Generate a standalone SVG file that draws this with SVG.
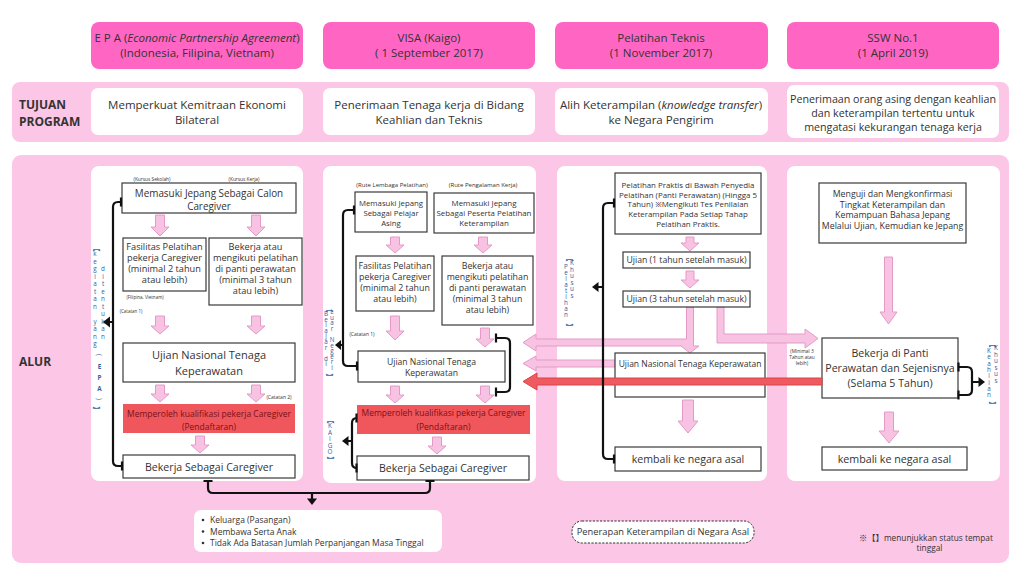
<svg xmlns="http://www.w3.org/2000/svg" width="1024" height="577" viewBox="0 0 1024 577">
<style>
.t{font-family:'Open Sans','Noto Sans','Noto Sans CJK JP',sans-serif;fill:#333;text-anchor:middle}
.cjk{font-family:'Noto Sans CJK JP',sans-serif}
.hdr{fill:#ff66c4}
.bgp{fill:#fcc6e6}
.wb{fill:#fff}
.box{fill:#fff;stroke:#3a3a3a;stroke-width:1.2}
.red{fill:#f0575c}
.rt{fill:#7d1015}
.pa{fill:#f8c3e2;stroke:#e49ac7;stroke-width:1}
.ra{fill:#ee5a5f;stroke:#d9454b;stroke-width:1}
.br{fill:none;stroke:#111;stroke-width:2.2}
.ah{fill:#111}
.vt{font-family:'Open Sans','Noto Sans',sans-serif;font-size:6.3px;fill:#3262a0;text-anchor:middle}
.vb{font-family:'Noto Sans CJK JP','Open Sans',sans-serif;font-size:7.5px;fill:#3262a0;text-anchor:middle;dominant-baseline:central}
.lab{font-family:'Open Sans','Noto Sans',sans-serif;font-weight:bold;font-size:12px;fill:#333}
</style>

<rect width="1024" height="577" fill="#fff"/>

<g id="headers">
<rect class="hdr" x="91" y="22" width="212" height="47" rx="8"/>
<text class="t" x="197" y="42" font-size="11.5">E P A (<tspan font-style="italic">Economic Partnership Agreement</tspan>)</text>
<text class="t" x="197" y="57" font-size="11.5">(Indonesia, Filipina, Vietnam)</text>
<rect class="hdr" x="323" y="22" width="212" height="47" rx="8"/>
<text class="t" x="429" y="42" font-size="11.5">VISA (Kaigo)</text>
<text class="t" x="429" y="57" font-size="11.5">( 1 September 2017)</text>
<rect class="hdr" x="555" y="22" width="213" height="47" rx="8"/>
<text class="t" x="661" y="42" font-size="11.5">Pelatihan Teknis</text>
<text class="t" x="661" y="57" font-size="11.5">(1 November  2017)</text>
<rect class="hdr" x="787" y="22" width="212" height="47" rx="8"/>
<text class="t" x="893" y="42" font-size="11.5">SSW No.1</text>
<text class="t" x="893" y="57" font-size="11.5">(1 April 2019)</text>
</g>

<g id="tujuan">
<rect class="bgp" x="12" y="82" width="997" height="60" rx="8"/>
<text class="lab" x="19" y="108.5">TUJUAN</text>
<text class="lab" x="19" y="125.5">PROGRAM</text>
<rect class="wb" x="91" y="88" width="212" height="47" rx="7"/>
<text class="t" x="197" y="109" font-size="11.5">Memperkuat Kemitraan Ekonomi</text>
<text class="t" x="197" y="124" font-size="11.5">Bilateral</text>
<rect class="wb" x="323" y="88" width="212" height="47" rx="7"/>
<text class="t" x="429" y="109" font-size="11.5">Penerimaan Tenaga kerja di Bidang</text>
<text class="t" x="429" y="124" font-size="11.5">Keahlian dan Teknis</text>
<rect class="wb" x="555" y="88" width="213" height="47" rx="7"/>
<text class="t" x="661" y="109" font-size="11.5">Alih Keterampilan (<tspan font-style="italic">knowledge transfer</tspan>)</text>
<text class="t" x="661" y="124" font-size="11.5">ke Negara Pengirim</text>
<rect class="wb" x="787" y="85" width="212" height="53" rx="7"/>
<text class="t" x="893" y="103" font-size="10.7">Penerimaan orang asing dengan keahlian</text>
<text class="t" x="893" y="117" font-size="10.7">dan keterampilan tertentu untuk</text>
<text class="t" x="893" y="131" font-size="10.7">mengatasi kekurangan tenaga kerja</text>
</g>

<g id="alur-bg">
<rect class="bgp" x="12" y="155" width="997" height="408" rx="9"/>
<text class="lab" x="19" y="366">ALUR</text>
<rect class="wb" x="91" y="166" width="212" height="315" rx="8"/>
<rect class="wb" x="323" y="166" width="213" height="317" rx="8"/>
<rect class="wb" x="557" y="166" width="210" height="315" rx="8"/>
<rect class="wb" x="787" y="166" width="213" height="315" rx="8"/>
</g>

<g id="pink-arrows">
<path class="pa" d="M155.5 215H164.5V227H169L160 236L151 227H155.5Z"/>
<path class="pa" d="M251.5 215H260.5V227H265L256 236L247 227H251.5Z"/>
<path class="pa" d="M155.5 316H164.5V326H169L160 334L151 326H155.5Z"/>
<path class="pa" d="M251.5 316H260.5V326H265L256 334L247 326H251.5Z"/>
<path class="pa" d="M155.5 385H164.5V394H169L160 402L151 394H155.5Z"/>
<path class="pa" d="M251.5 385H260.5V394H265L256 402L247 394H251.5Z"/>
<path class="pa" d="M195.5 436H204.5V445H209L200 453L191 445H195.5Z"/>
<path class="pa" d="M390.5 237H399.5V245H404L395 253L386 245H390.5Z"/>
<path class="pa" d="M478.5 237H487.5V245H492L483 253L474 245H478.5Z"/>
<path class="pa" d="M390.5 316H399.5V331H404L395 340L386 331H390.5Z"/>
<path class="pa" d="M480.5 328H489.5V339H494L485 347L476 339H480.5Z"/>
<path class="pa" d="M390.5 386H399.5V395H404L395 403L386 395H390.5Z"/>
<path class="pa" d="M480.5 386H489.5V395H494L485 403L476 395H480.5Z"/>
<path class="pa" d="M432.5 437H441.5V446H446L437 454L428 446H432.5Z"/>
<path class="pa" d="M686 237H694V243H699L690 251L681 243H686Z"/>
<path class="pa" d="M686 271H694V280H699L690 288L681 280H686Z"/>
<path class="pa" d="M682.5 400H693.5V421H698L688 433L678 421H682.5Z"/>
<path class="pa" d="M884.5 257H892.5V312H897L888.5 324L880 312H884.5Z"/>
<path class="pa" d="M884.5 412H893.5V431H899L889 443L879 431H884.5Z"/>
<path class="pa" d="M686.5 307H693.5V346H699L690 353L681 346H536V351L523 342.5L536 334V339H686.5Z"/>
<path class="pa" d="M615 360H536V356L523 363.5L536 371V367H615Z"/>
<path class="pa" d="M717 307H724V334H805V329L818 338.5L805 348V343H717Z"/>
</g>

<g id="epa">
<text class="t" x="152" y="180.5" font-size="4.8">(Kursus Sekolah)</text>
<text class="t" x="244" y="180.5" font-size="4.8">(Kursus Kerja)</text>
<g id="epa-masuk"><rect class="box" x="122" y="183" width="174" height="30"/>
<text class="t" x="209" y="196.5" font-size="9.9">Memasuki Jepang Sebagai Calon</text>
<text class="t" x="209" y="210" font-size="9.9">Caregiver</text></g>
<g id="epa-fasilitas"><rect class="box" x="123" y="238" width="83" height="53"/>
<text class="t" x="164.5" font-size="9.2"><tspan x="164.5" y="249.5">Fasilitas Pelatihan</tspan><tspan x="164.5" y="260.5">pekerja Caregiver</tspan><tspan x="164.5" y="271.5">(minimal 2 tahun</tspan><tspan x="164.5" y="282.5">atau lebih)</tspan></text></g>
<g id="epa-bekerja1"><rect class="box" x="209" y="238" width="93" height="67"/>
<text class="t" x="255.5" font-size="9.2"><tspan x="255.5" y="249.5">Bekerja atau</tspan><tspan x="255.5" y="260.5">mengikuti pelatihan</tspan><tspan x="255.5" y="271.5">di panti perawatan</tspan><tspan x="255.5" y="282.5">(minimal 3 tahun</tspan><tspan x="255.5" y="293.5">atau lebih)</tspan></text></g>
<text class="t" x="145" y="298.5" font-size="4.5">(Filipina, Vietnam)</text>
<text class="t" x="131" y="313" font-size="4.5">(Catatan 1)</text>
<g id="epa-ujian"><rect class="box" x="123" y="343" width="172" height="39"/>
<text class="t" x="209" y="359" font-size="11">Ujian Nasional Tenaga</text>
<text class="t" x="209" y="375" font-size="11">Keperawatan</text></g>
<text class="t" x="279" y="398.5" font-size="5">(Catatan 2)</text>
<g id="epa-kualifikasi"><rect class="red" x="123" y="404" width="172" height="29"/>
<text class="t rt" x="209" y="417" font-size="8.5">Memperoleh kualifikasi pekerja Caregiver</text>
<text class="t rt" x="209" y="430" font-size="8.5">(Pendaftaran)</text></g>
<g id="epa-caregiver"><rect class="box" x="123" y="455" width="172" height="23"/>
<text class="t" x="209" y="470.5" font-size="10.6">Bekerja Sebagai Caregiver</text></g>
<g id="epa-status">
<text class="vb" transform="translate(96 248) rotate(90)">【</text>
<text class="vt" x="95 95 95 95 95 95 95 95 95 95 95 95 95" y="256 263.5 271 278.5 286 293.5 301 308.5 316 323.5 331 338.5 346">kegiatan yang</text>
<text class="vt" x="103 103 103 103 103 103 103 103 103 103" y="271 278.5 286 293.5 301 308.5 316 323.5 331 338.5">ditentukan</text>
<text class="vt" font-size="10" transform="translate(99.5 355) rotate(90)" dominant-baseline="central">(</text>
<text class="vt" font-size="10" font-weight="bold" x="99.5 99.5 99.5" y="369 380 391">EPA</text>
<text class="vt" font-size="10" transform="translate(99.5 399) rotate(90)" dominant-baseline="central">)</text>
<text class="vb" transform="translate(96 410) rotate(90)">】</text>
</g>
</g>

<g id="visa">
<text class="t" x="392" y="187" font-size="6">(Rute Lembaga Pelatihan)</text>
<text class="t" x="483" y="187" font-size="6">(Rute Pengalaman Kerja)</text>
<g id="visa-pelajar"><rect class="box" x="355" y="192" width="72" height="40"/>
<text class="t" x="391" font-size="7.8"><tspan x="391" y="205.5">Memasuki Jepang</tspan><tspan x="391" y="215.5">Sebagai Pelajar</tspan><tspan x="391" y="225.5">Asing</tspan></text></g>
<g id="visa-peserta"><rect class="box" x="434" y="193" width="100" height="40"/>
<text class="t" x="484" font-size="7.9"><tspan x="484" y="205.5">Memasuki Jepang</tspan><tspan x="484" y="215.5">Sebagai Peserta Pelatihan</tspan><tspan x="484" y="225.5">Keterampilan</tspan></text></g>
<g id="visa-fasilitas"><rect class="box" x="356" y="256" width="78" height="55"/>
<text class="t" x="395" font-size="8.8"><tspan x="395" y="269">Fasilitas Pelatihan</tspan><tspan x="395" y="280">pekerja Caregiver</tspan><tspan x="395" y="291">(minimal 2 tahun</tspan><tspan x="395" y="302">atau lebih)</tspan></text></g>
<g id="visa-bekerja1"><rect class="box" x="442" y="256" width="91" height="69"/>
<text class="t" x="487.5" font-size="8.8"><tspan x="487.5" y="269">Bekerja atau</tspan><tspan x="487.5" y="280">mengikuti pelatihan</tspan><tspan x="487.5" y="291">di panti perawatan</tspan><tspan x="487.5" y="302">(minimal 3 tahun</tspan><tspan x="487.5" y="313">atau lebih)</tspan></text></g>
<text class="t" x="362" y="335.7" font-size="5">(Catatan 1)</text>
<g id="visa-ujian"><rect class="box" x="358" y="351" width="147" height="31"/>
<text class="t" x="431.5" y="365" font-size="8.6">Ujian Nasional Tenaga</text>
<text class="t" x="431.5" y="375.5" font-size="8.6">Keperawatan</text></g>
<g id="visa-kualifikasi"><rect class="red" x="357" y="405" width="173" height="29"/>
<text class="t rt" x="443.5" y="416" font-size="8.5">Memperoleh kualifikasi pekerja Caregiver</text>
<text class="t rt" x="443.5" y="430" font-size="8.5">(Pendaftaran)</text></g>
<g id="visa-caregiver"><rect class="box" x="357" y="456" width="172" height="24"/>
<text class="t" x="443" y="471.7" font-size="10.6">Bekerja Sebagai Caregiver</text></g>
<g id="visa-status">
<text class="vb" transform="translate(329 309) rotate(90)">【</text>
<text class="vt" x="326 326 326 326 326 326 326 326 326 326" y="316 321.6 327.2 332.8 338.4 344 349.6 355.2 360.8 366.4">Belajar di</text>
<text class="vt" x="332 332 332 332 332 332 332 332 332 332 332" y="314 319.6 325.2 330.8 336.4 342 347.6 353.2 358.8 364.4 370">Luar Negeri</text>
<text class="vb" transform="translate(329 377) rotate(90)">】</text>
<text class="vb" transform="translate(330 420) rotate(90)">【</text>
<text class="vt" font-size="6.5" x="330 330 330 330 330" y="428 434.5 441 447.5 454">KAIGO</text>
<text class="vb" transform="translate(330 460) rotate(90)">】</text>
</g>
</g>

<g id="pelatihan">
<g id="pt-praktis"><rect class="box" x="615" y="173" width="146" height="61"/>
<text class="t" x="688" font-size="7.9"><tspan x="688" y="187.8">Pelatihan Praktis di Bawah Penyedia</tspan><tspan x="688" y="197.5">Pelatihan (Panti Perawatan) (Hingga 5</tspan><tspan x="688" y="207.2">Tahun) ※Mengikuti Tes Penilaian</tspan><tspan x="688" y="217">Keterampilan Pada Setiap Tahap</tspan><tspan x="688" y="226.7">Pelatihan Praktis.</tspan></text></g>
<g id="pt-ujian1"><rect class="box" x="623" y="252" width="127" height="16"/>
<text class="t" x="686.5" y="263" font-size="8.7">Ujian (1 tahun setelah masuk)</text></g>
<g id="pt-ujian3"><rect class="box" x="623" y="291" width="127" height="16"/>
<text class="t" x="686.5" y="302" font-size="8.7">Ujian (3 tahun setelah masuk)</text></g>
<g id="pt-ujian-nasional"><rect class="box" x="615" y="353" width="150" height="44"/>
<text class="t" x="690" y="366.5" font-size="8.5">Ujian Nasional Tenaga Keperawatan</text></g>
<g id="pt-kembali"><rect class="box" x="615" y="447" width="146" height="24"/>
<text class="t" x="688" y="462.7" font-size="10.6">kembali ke negara asal</text></g>
<g id="pt-status">
<text class="vb" transform="translate(569 258) rotate(90)">【</text>
<text class="vt" x="566 566 566 566 566 566 566 566 566" y="269 275 281 287 293 299 305 311 317">Pelatihan</text>
<text class="vt" x="572 572 572 572 572 572" y="265 271.5 278 284.5 291 297.5">Khusus</text>
<text class="vb" transform="translate(569 327) rotate(90)">】</text>
</g>
</g>

<g id="ssw">
<g id="ssw-uji"><rect class="box" x="819" y="183" width="147" height="60"/>
<text class="t" x="892.5" font-size="8.8"><tspan x="892.5" y="197">Menguji dan Mengkonfirmasi</tspan><tspan x="892.5" y="207.5">Tingkat Keterampilan dan</tspan><tspan x="892.5" y="218">Kemampuan Bahasa Jepang</tspan><tspan x="892.5" y="228.5">Melalui Ujian, Kemudian ke Jepang</tspan></text></g>
<g id="ssw-bekerja"><rect class="box" x="822" y="338" width="136" height="60"/>
<text class="t" x="890" font-size="10.6"><tspan x="890" y="356.7">Bekerja di Panti</tspan><tspan x="890" y="371.7">Perawatan dan Sejenisnya</tspan><tspan x="890" y="386.7">(Selama 5 Tahun)</tspan></text></g>
<text class="t" x="802" font-size="4.8"><tspan x="802" y="352.5">(Minimal 3</tspan><tspan x="802" y="358.5">Tahun atau</tspan><tspan x="802" y="364.5">lebih)</tspan></text>
<g id="ssw-kembali"><rect class="box" x="822" y="447" width="145" height="23"/>
<text class="t" x="894.5" y="462.5" font-size="10.7">kembali ke negara asal</text></g>
<g id="ssw-status">
<text class="vb" transform="translate(992 344) rotate(90)">【</text>
<text class="vt" x="989 989 989 989 989 989 989 989" y="353 359.3 365.6 371.9 378.2 384.5 390.8 397.1">Keahlian</text>
<text class="vt" x="996 996 996 996 996 996" y="350 356.6 363.2 369.8 376.4 383">Khusus</text>
<text class="vb" transform="translate(992 405) rotate(90)">】</text>
</g>
</g>

<g id="red-arrow">
<path class="ra" d="M822 378H537V373L523 381.5L537 390V385H822Z"/>
</g>

<g id="connectors">
<path class="br" d="M122 202H118Q113 202 113 207V461Q113 466 118 466H123"/>
<path class="br" d="M121 197.5V206.5M122 461.5V470.5M113 322H109"/>
<polygon class="ah" points="103,322 110,316.5 110,327.5"/>
<path class="br" d="M355 210H348Q343 210 343 215V361Q343 366 348 366H358"/>
<path class="br" d="M354 205.5V214.5M357 361.5V370.5M343 345H340"/>
<polygon class="ah" points="335,345 341,340 341,350"/>
<path class="br" d="M357 418Q352 418 352 423V463Q352 468 357 468"/>
<path class="br" d="M356.5 413.5V422.5M356.5 463.5V472.5M352 441H348"/>
<polygon class="ah" points="342,441 348.5,436 348.5,446"/>
<path class="br" d="M496 338H505Q510 338 510 343V387Q510 392 505 392H496"/>
<path class="br" d="M496 333.5V342.5M496 387.5V396.5"/>
<path class="br" d="M615 203H608Q603 203 603 208V454Q603 459 608 459H615"/>
<path class="br" d="M614 198.5V207.5M614 454.5V463.5M603 287H598"/>
<polygon class="ah" points="592,287 598.5,282 598.5,292"/>
<path class="br" d="M958 367H967Q972 367 972 372V390Q972 395 967 395H958"/>
<path class="br" d="M958.5 362.5V371.5M958.5 390.5V399.5M972 382H979"/>
<polygon class="ah" points="985,382 978.5,377 978.5,387"/>
<path class="br" d="M208 481V488Q208 493 213 493H425Q430 493 430 488V481"/>
<path class="br" d="M203.5 481H212.5M425.5 481H434.5M312 493V499"/>
<polygon class="ah" points="312,505 307,498.5 317,498.5"/>
</g>

<g id="bottom">
<g id="benefits"><rect class="wb" x="194" y="510" width="248" height="42" rx="7"/>
<circle cx="203" cy="520" r="1.3" fill="#333"/>
<circle cx="203" cy="531.5" r="1.3" fill="#333"/>
<circle cx="203" cy="543" r="1.3" fill="#333"/>
<text class="t" style="text-anchor:start" font-size="8.5"><tspan x="210" y="523">Keluarga (Pasangan)</tspan><tspan x="210" y="534.5">Membawa Serta Anak</tspan><tspan x="210" y="546">Tidak Ada Batasan Jumlah Perpanjangan Masa Tinggal</tspan></text></g>
<g id="penerapan"><rect x="572" y="521" width="182" height="22" rx="10" fill="#fff" stroke="#333" stroke-width="1" stroke-dasharray="2.2 1.4"/>
<text class="t" x="663" y="535.3" font-size="9.3">Penerapan Keterampilan di Negara Asal</text></g>
<g id="footnote">
<text class="t" style="text-anchor:start" x="859" y="541" font-size="8.3"><tspan class="cjk">※【】</tspan>menunjukkan status tempat</text>
<text class="t" x="929.5" y="551" font-size="8.3">tinggal</text>
</g>
</g>
</svg>
